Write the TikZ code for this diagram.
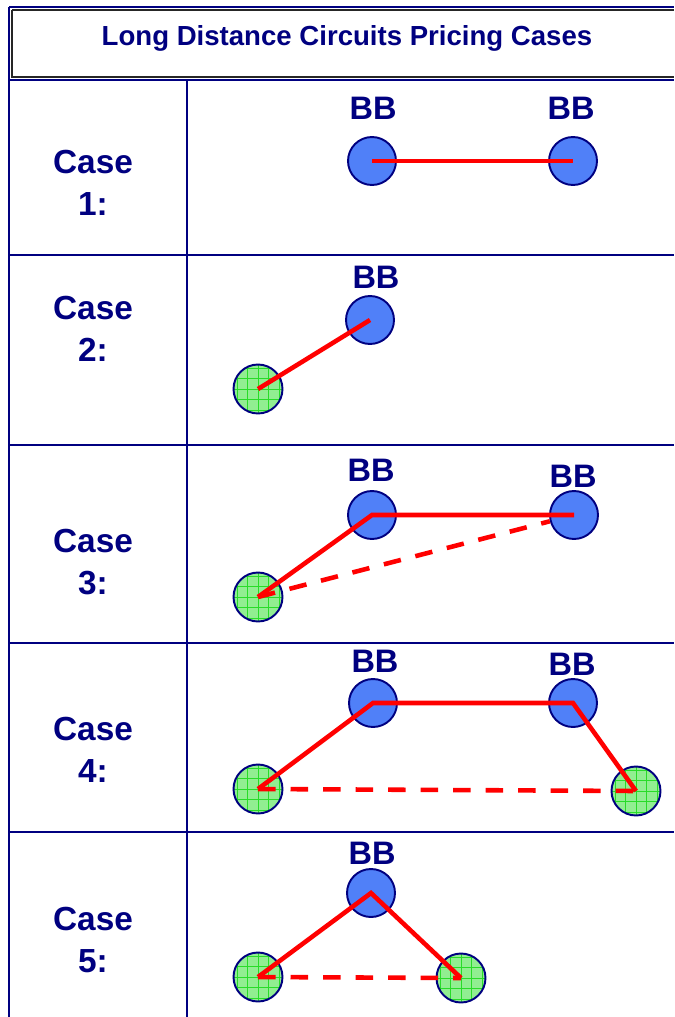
\documentclass[tikz,border=0pt]{standalone}
\usepackage{fontspec}
\setmainfont{Liberation Sans}
\definecolor{tableNavy}{RGB}{0,0,128}
\definecolor{bbBlue}{RGB}{80,128,248}
\definecolor{siteGreen}{RGB}{145,238,145}
\definecolor{gridGreen}{RGB}{40,220,40}
\definecolor{linkRed}{RGB}{255,0,0}

\begin{document}
\begin{tikzpicture}
[x=0.02cm,y=-0.02cm,%
  tableLine/.style={draw=tableNavy,line width=1.4pt},%
  headLine/.style={draw=black!85,line width=0.9pt},%
  bbNode/.style={shape=circle,minimum size=0.96cm,inner sep=0pt,draw=tableNavy,line width=1.1pt,fill=bbBlue},%
  accessNode/.style={shape=circle,minimum size=0.98cm,inner sep=0pt,draw=tableNavy,line width=1.1pt,fill=siteGreen,
    path picture={\draw[gridGreen,line width=0.35pt,step=0.21cm] (path picture bounding box.south west) grid (path picture bounding box.north east);}},%
  linkLine/.style={draw=linkRed,line width=2.6pt},%
  linkDashed/.style={linkLine,dash pattern=on 10pt off 8.5pt},%
  caseLabel/.style={text=tableNavy,align=center,font=\bfseries\fontsize{19}{24}\selectfont},%
  bbLabel/.style={text=tableNavy,font=\bfseries\fontsize{18.5}{21}\selectfont}]
\useasboundingbox (0,0) rectangle (674,1017);
%% table frame
\draw[tableLine] (9,7) -- (674,7);
\draw[tableLine] (9,7) -- (9,1017);
\draw[headLine] (12,10) -- (674,10);
\draw[headLine] (12,10) -- (12,77) -- (674,77);
\draw[tableLine] (9,80) -- (674,80);
\draw[tableLine] (187,80) -- (187,1017);
\foreach \y in {255,445,643,832}
  \draw[tableLine] (9,\y) -- (674,\y);
%% title and case labels
\node[text=tableNavy,font=\bfseries\fontsize{15.7}{18}\selectfont] (title) at (347,38) {Long Distance Circuits Pricing Cases};
\foreach \n/\y in {1/183,2/329,3/562,4/750,5/940}
  \node[caseLabel] (case\n) at (93,\y) {Case\\\n:};
%% backbone and access sites
\node[bbNode] (bb1a) at (372,161) {};
\node[bbNode] (bb1b) at (573,161) {};
\node[bbNode] (bb2) at (370,320) {};
\node[accessNode] (ac2) at (258,389) {};
\node[bbNode] (bb3a) at (372,515) {};
\node[bbNode] (bb3b) at (574,515) {};
\node[accessNode] (ac3) at (258,597) {};
\node[bbNode] (bb4a) at (373,703) {};
\node[bbNode] (bb4b) at (573,703) {};
\node[accessNode] (ac4a) at (258,789) {};
\node[accessNode] (ac4b) at (636,791) {};
\node[bbNode] (bb5) at (371,893) {};
\node[accessNode] (ac5a) at (258,977) {};
\node[accessNode] (ac5b) at (461,978) {};
%% backbone labels
\foreach \nodename/\x/\y in {
  bb1a/373/108, bb1b/571/108, bb2/376/277, bb3a/371/470, bb3b/573/476,
  bb4a/375/661, bb4b/572/664, bb5/372/853}
{
  \node[bbLabel] (\nodename-name) at (\x,\y) {BB};
}
%% circuits
\draw[linkLine] (bb1a.center) -- (bb1b.center);
\draw[linkLine] (ac2.center) -- (bb2.center);
\draw[linkLine] (ac3.center) -- (bb3a.center) -- (bb3b.center);
\draw[linkDashed] (ac3.center) -- (bb3b);
\draw[linkLine] (ac4a.center) -- (bb4a.center) -- (bb4b.center) -- (ac4b.center);
\draw[linkDashed] (ac4a.center) -- (ac4b.center);
\draw[linkLine] (ac5a.center) -- (bb5.center) -- (ac5b.center);
\draw[linkDashed] (ac5a.center) -- (ac5b.center);
\end{tikzpicture}
\end{document}
